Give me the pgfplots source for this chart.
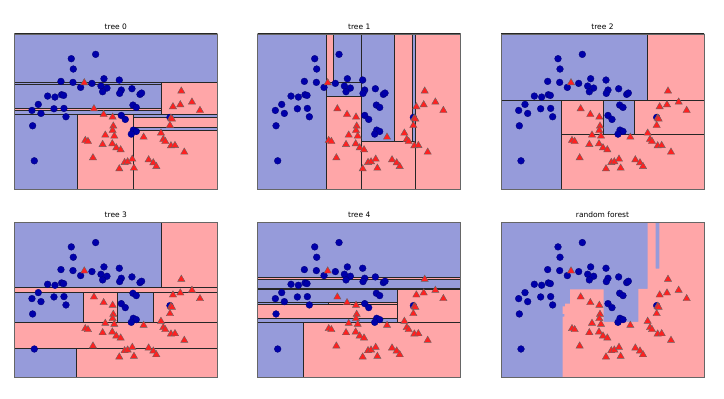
\documentclass[border=0pt]{standalone}
\usepackage{pgfplots}
\pgfplotsset{compat=1.18}
\usepackage{pgfplotstable}
\usepackage{fontspec}
\setmainfont{DejaVu Sans}
\definecolor{bfill}{RGB}{150,155,218}
\definecolor{rfill}{RGB}{255,166,168}
\definecolor{bdot}{HTML}{0000AA}
\definecolor{rtri}{HTML}{FF2020}

\pgfplotstableread{
u v
244 61
171 74
177 105
140 142
176 145
199 160
233 148
269 134
260 156
278 162
265 173
315 138
321 168
316 178
353 164
377 181
382 177
100 186
122 189
142 182
148 184
72 211
53 229
80 238
119 224
149 223
155 248
55 275
60 380
356 213
366 220
321 244
333 256
357 288
366 292
351 300
467 250
}\bluepts

\pgfplotstableread{
u v
210 146
501 171
476 218
498 212
533 204
557 229
239 224
268 241
295 249
470 252
473 255
467 274
297 276
295 289
273 303
300 306
213 319
221 322
265 331
294 329
306 341
319 347
388 309
440 297
447 316
453 322
470 335
482 334
510 354
236 371
331 385
340 383
354 375
315 404
359 402
403 377
417 386
426 397
}\redpts

\pgfplotsset{
 panel/.style={scale only axis, width=203pt, height=155.5pt,
   xmin=0, xmax=609, ymin=0, ymax=466, y dir=reverse,
   xtick=\empty, ytick=\empty,
   axis line style={black!60, line width=0.8pt},
   anchor=south west, axis on top,
   title style={font=\fontsize{7.5}{8}\selectfont, inner sep=0pt, yshift=-1.8pt}},
 reg/.style={draw=black!85, line width=1pt},
}
\newcommand{\B}[4]{\addplot[reg, fill=bfill] coordinates {(#1,#3) (#2,#3) (#2,#4) (#1,#4)} -- cycle;}
\newcommand{\R}[4]{\addplot[reg, fill=rfill] coordinates {(#1,#3) (#2,#3) (#2,#4) (#1,#4)} -- cycle;}
\newcommand{\pts}{%
 \addplot[only marks, mark=*, mark size=3.4pt, color=bdot, mark options={draw=bdot!70!black, line width=0.3pt}] table {\bluepts};
 \addplot[only marks, mark=triangle*, mark size=4.2pt, color=rtri, mark options={draw=black!60, line width=0.4pt}] table {\redpts};
}

\begin{document}
\begin{tikzpicture}
\useasboundingbox (0,0) rectangle (724pt,399pt);

% tree 0
\begin{axis}[panel, at={(14.3pt,209.5pt)}, title={tree 0}]
\B{0}{609}{0}{145}
\B{0}{442}{145}{150}
\B{0}{442}{150}{223}
\R{442}{609}{145}{240}
\R{0}{442}{223}{230}
\B{0}{442}{230}{240}
\B{0}{189}{240}{466}
\R{189}{357}{240}{466}
\B{357}{609}{240}{250}
\R{357}{609}{250}{279}
\B{357}{609}{279}{288}
\R{357}{609}{288}{466}
\pts
\end{axis}

% tree 1
\begin{axis}[panel, at={(257.7pt,209.5pt)}, title={tree 1}]
\B{0}{205}{0}{466}
\R{205}{227}{0}{146}
\B{227}{310}{0}{146}
\B{205}{310}{146}{186}
\R{205}{310}{186}{466}
\B{310}{410}{0}{323}
\R{410}{465}{0}{323}
\B{465}{472}{0}{343}
\R{310}{472}{323}{466}
\R{472}{609}{0}{466}
\pts
\end{axis}

% tree 2
\begin{axis}[panel, at={(501pt,209.5pt)}, title={tree 2}]
\B{0}{440}{0}{198}
\R{440}{609}{0}{198}
\B{0}{180}{198}{466}
\R{180}{308}{198}{301}
\B{308}{401}{198}{301}
\R{401}{609}{198}{301}
\R{180}{609}{301}{466}
\pts
\end{axis}

% tree 3
\begin{axis}[panel, at={(14.3pt,21.3pt)}, title={tree 3}]
\B{0}{442}{0}{197}
\R{442}{609}{0}{197}
\R{0}{609}{197}{211}
\B{0}{207}{211}{301}
\R{207}{309}{211}{301}
\B{309}{417}{211}{301}
\R{417}{609}{211}{301}
\R{0}{609}{301}{377}
\B{0}{187}{377}{466}
\R{187}{609}{377}{466}
\pts
\end{axis}

% tree 4
\begin{axis}[panel, at={(257.7pt,21.3pt)}, title={tree 4}]
\B{0}{609}{0}{167}
\R{0}{609}{167}{172}
\B{0}{609}{172}{199}
\B{0}{609}{199}{202}
\B{0}{419}{202}{240}
\B{0}{211}{240}{248}
\R{211}{419}{240}{248}
\R{0}{419}{248}{290}
\B{0}{419}{290}{301}
\R{419}{609}{202}{301}
\B{0}{137}{301}{466}
\R{137}{609}{301}{466}
\pts
\end{axis}

% random forest
\begin{axis}[panel, at={(501pt,21.3pt)}, title={random forest}]
\addplot[draw=none, fill=bfill] coordinates {(0,0) (609,0) (609,466) (0,466)} -- cycle;
\addplot[draw=none, fill=rfill] coordinates {(185,466) (185,283) (190,283) (190,275) (185,275) (185,252) (192,252) (192,244) (207,244) (207,201) (308,201) (308,299) (412,299) (412,200) (440,200) (440,0) (464,0) (464,139) (475,139) (475,0) (609,0) (609,466)} -- cycle;
\pts
\end{axis}
\end{tikzpicture}
\end{document}
